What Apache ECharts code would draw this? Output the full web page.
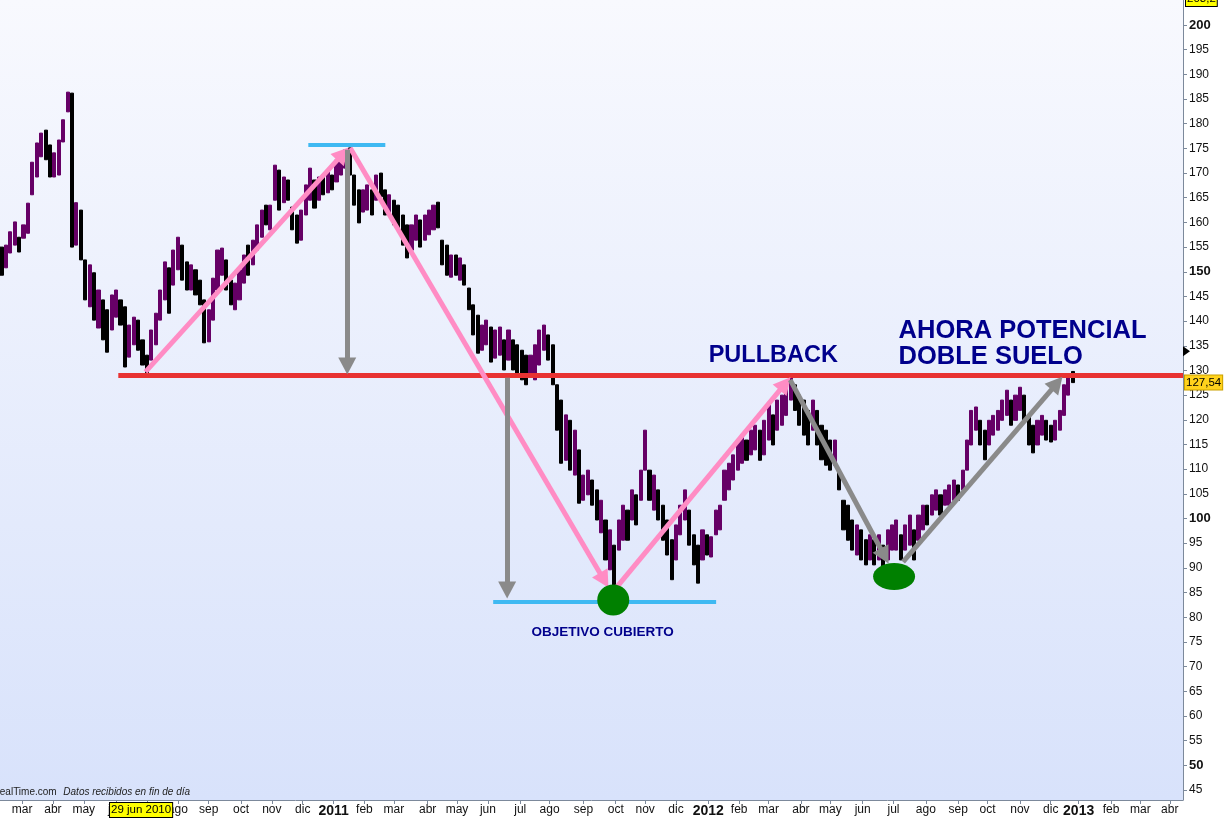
<!DOCTYPE html>
<html>
<head>
<meta charset="utf-8">
<script src="https://cdn.jsdelivr.net/npm/echarts@6/dist/echarts.min.js"></script>
<style>
html,body{margin:0;padding:0;background:#ffffff;}
#c{width:1226px;height:818px;}
</style>
</head>
<body>
<div id="c"></div>
<script>
// ---- price bars (each bar = 3 trading days; x = trading-day index since 1 Jan 2010) ----
const firstBarDay = 30;
const barStepDays = 3;
const priceOpen = [
155.0,150.8,153.8,155.4,157.0,156.8,157.8,165.6,169.2,173.3,
178.7,175.7,169.2,169.6,176.3,182.4,186.2,155.4,162.5,152.4,
142.9,149.8,138.6,144.3,142.3,138.2,140.8,144.3,142.9,132.7,
135.2,140.2,136.2,133.1,132.1,135.2,140.2,144.3,150.8,147.3,
150.4,155.4,152.0,146.3,150.4,148.3,144.3,135.8,140.2,146.3,
149.3,152.4,148.3,142.3,144.3,147.7,155.4,151.4,154.4,157.0,
163.5,158.5,164.5,170.6,164.0,168.6,163.1,161.5,156.4,161.5,
164.5,168.6,164.5,169.6,166.0,169.6,168.2,169.6,171.0,175.1,
169.6,166.6,162.1,162.5,166.6,164.5,170.0,166.6,161.5,164.5,
163.5,161.5,159.5,154.4,156.4,160.5,156.4,157.5,158.5,164.1,
156.4,155.4,148.9,153.4,148.3,151.4,146.7,143.3,141.2,134.1,
135.2,138.8,132.5,133.1,136.2,132.1,136.2,135.2,134.1,133.1,
129.1,128.1,131.1,134.1,137.2,135.2,127.1,124.0,111.8,119.9,
108.8,113.9,103.7,104.8,107.8,105.8,97.1,99.7,89.6,94.6,
93.6,95.6,101.7,99.7,104.8,103.7,109.8,109.8,101.7,105.8,
102.7,99.7,95.7,91.6,96.7,99.7,101.7,96.7,94.6,91.6,
96.7,92.2,96.7,97.7,103.7,105.8,107.8,109.8,111.2,115.9,
112.9,113.9,117.9,112.9,115.9,121.0,117.9,118.9,120.9,124.0,
127.1,125.0,124.0,121.9,117.9,121.9,118.9,117.9,115.9,110.8,
109.8,103.7,102.7,99.7,92.6,97.7,95.7,91.6,95.7,91.6,
94.6,91.6,93.6,93.6,96.7,93.6,94.6,97.7,95.6,97.7,
102.7,100.7,101.7,104.8,102.7,102.7,103.7,106.8,105.8,109.8,
114.9,117.9,119.9,117.9,114.9,116.9,117.9,119.9,120.9,124.0,
119.9,121.9,125.0,120.9,118.9,114.9,116.9,119.9,118.9,115.9,
117.9,120.9,125.0,129.8
];
const priceClose = [
149.3,155.4,158.1,160.1,154.0,159.5,163.9,172.2,176.1,178.1,
172.7,169.2,174.1,176.7,180.8,186.4,155.0,164.0,152.4,144.3,
151.4,140.2,146.3,136.2,133.7,145.3,146.3,139.2,130.7,139.2,
140.8,134.1,131.1,129.5,138.2,141.6,146.3,152.0,141.6,154.4,
157.0,148.3,146.3,151.4,145.3,143.3,135.6,142.3,148.7,154.4,
154.8,146.3,143.3,147.7,150.4,153.4,149.3,156.4,159.5,162.5,
159.5,163.5,171.6,162.5,169.2,164.5,158.5,155.8,162.5,167.6,
171.0,162.9,169.2,165.6,170.2,166.6,172.6,173.7,174.7,169.6,
163.5,159.9,166.6,167.6,161.5,169.6,165.2,161.5,165.6,159.5,
158.5,155.4,152.8,159.5,161.5,155.0,161.5,162.5,163.5,158.9,
151.4,149.3,153.4,149.3,152.8,147.3,142.3,137.2,133.5,139.2,
140.2,131.7,138.2,138.8,130.1,138.2,130.1,129.1,128.1,127.1,
133.1,135.2,138.2,139.2,132.1,127.1,117.9,111.2,121.0,109.8,
117.9,103.1,108.8,109.8,102.7,99.7,103.7,91.6,97.7,85.5,
99.7,102.7,95.6,105.8,98.7,109.8,117.9,103.7,108.8,99.7,
95.6,92.6,87.6,98.7,102.7,105.8,94.6,90.6,86.9,97.7,
92.6,96.3,101.7,102.7,109.8,111.2,112.9,115.9,116.9,111.8,
117.9,118.9,111.8,119.9,123.0,114.9,124.0,125.0,127.1,128.5,
121.9,118.9,116.9,114.9,124.0,114.9,111.9,110.8,109.8,115.9,
105.8,97.7,95.6,93.6,98.7,91.6,90.6,96.7,90.6,96.7,
90.0,97.7,98.7,99.7,91.6,98.7,100.7,91.6,100.7,102.7,
98.7,104.8,105.8,100.7,105.8,106.8,107.8,103.7,109.8,115.9,
121.9,122.6,114.9,111.9,119.9,120.9,121.9,124.0,126.0,118.9,
125.0,126.6,119.9,114.9,113.3,119.9,120.9,115.9,115.5,119.9,
121.9,127.1,129.1,127.54
];

// ---- axes ----
const xMinDay = 29, xMaxDay = 834;
const yMin = 42.96, yMax = 205.07;
const monthTicks = [44,65,86,108,129,150,171,193,214,235,256,277,297,320,340,361,383,403,426,448,468,489,511,532,552,574,594,616,637,659,681,701,723,744,763,785,805,825];
const monthLabels = ['mar','abr','may','jun','jul','ago','sep','oct','nov','dic','2011','feb','mar','abr','may','jun','jul','ago','sep','oct','nov','dic','2012','feb','mar','abr','may','jun','jul','ago','sep','oct','nov','dic','2013','feb','mar','abr'];
const priceTicks = [45,50,55,60,65,70,75,80,85,90,95,100,105,110,115,120,125,130,135,140,145,150,155,160,165,170,175,180,185,190,195,200];

// ---- annotations (data coordinates: [trading day, price]) ----
const resistanceLine = [[109.5,129.0],[834,129.0]];
const cyanLines = [ [[238.8,175.7],[291.2,175.7]], [[364.6,83.1],[516.3,83.1]] ];
const pinkArrows = [ [[128.0,129.7],[262.3,173.9]], [[267.3,175.1],[440.1,87.5]], [[447.0,85.5],[563.2,127.3]] ];
const grayArrows = [ [[265.3,174.7],[265.3,130.9]], [[374.1,128.5],[374.1,85.5]], [[566.7,128.1],[630.9,92.4]], [[643.5,91.2],[748.2,127.4]] ];
const greenMarks = [ {pos:[446.3,83.5], size:[32,31]}, {pos:[637.4,88.25], size:[42,27]} ];
const notes = [
  {pos:[510.9,133.0], text:'PULLBACK', size:23.5, align:'left'},
  {pos:[640.1,135.4], text:'AHORA POTENCIAL\nDOBLE SUELO', size:25.5, align:'left'},
  {pos:[439.1,77.0], text:'OBJETIVO CUBIERTO', size:13.5, align:'center'}
];
const lowDateDay = 125, lowDateText = '29 jun 2010';
const lastPrice = 127.54, lastPriceText = '127,54';
const topPriceText = '203,2';
const markerPrice = 133.9;

const FONT = '"Liberation Sans", Arial, sans-serif';
const bars = priceOpen.map((o, i) => {
  const c = priceClose[i];
  return [firstBarDay + i * barStepDays, o, c, Math.min(o, c), Math.max(o, c)];
});
const pair = seg => [{coord: seg[0]}, {coord: seg[1]}];

const chart = echarts.init(document.getElementById('c'), null, {renderer: 'canvas'});
chart.setOption({
  animation: false,
  backgroundColor: '#ffffff',
  grid: {
    left: 0, right: 43, top: 0, bottom: 18, show: true, borderWidth: 0,
    backgroundColor: new echarts.graphic.LinearGradient(0, 0, 0, 1, [
      {offset: 0, color: '#f8f9fe'}, {offset: 1, color: '#d8e2fb'}
    ])
  },
  xAxis: {
    type: 'value', min: xMinDay, max: xMaxDay,
    axisLine: {show: true, onZero: false, lineStyle: {color: '#7c899b', width: 1}},
    axisTick: {show: true, customValues: monthTicks, length: 4, lineStyle: {color: '#7c899b'}},
    axisLabel: {
      customValues: monthTicks, margin: 4, color: '#111', fontSize: 12, fontFamily: FONT,
      formatter: v => {
        const s = monthLabels[monthTicks.indexOf(v)] || '';
        return /^\d{4}$/.test(s) ? '{y|' + s + '}' : s;
      },
      rich: {y: {fontWeight: 'bold', fontSize: 14, color: '#111', fontFamily: FONT}}
    },
    splitLine: {show: false}
  },
  yAxis: {
    type: 'value', position: 'right', min: yMin, max: yMax,
    axisLine: {show: true, onZero: false, lineStyle: {color: '#7c899b', width: 1}},
    axisTick: {show: true, customValues: priceTicks, length: 4, lineStyle: {color: '#7c899b'}},
    axisLabel: {
      customValues: priceTicks, margin: 6, color: '#111', fontSize: 12, fontFamily: FONT,
      formatter: v => (v % 50 === 0 ? '{b|' + v + '}' : String(v)),
      rich: {b: {fontWeight: 'bold', fontSize: 13, color: '#111', fontFamily: FONT}}
    },
    splitLine: {show: false}
  },
  series: [
    {
      type: 'candlestick', data: bars, encode: {x: 0, y: [1, 2, 3, 4]},
      barWidth: 3.6, silent: true, z: 2,
      itemStyle: {color: '#660066', color0: '#000000', borderColor: '#660066', borderColor0: '#000000', borderWidth: 1}
    },
    {
      type: 'line', data: [], silent: true,
      markLine: {
        silent: true, animation: false, z: 5, symbol: ['none', 'none'],
        label: {show: false}, emphasis: {disabled: true},
        lineStyle: {color: '#e83232', width: 5, type: 'solid', opacity: 1},
        data: [pair(resistanceLine)]
      }
    },
    {
      type: 'line', data: [], silent: true,
      markLine: {
        silent: true, animation: false, z: 5, symbol: ['none', 'none'],
        label: {show: false}, emphasis: {disabled: true},
        lineStyle: {color: '#3fb9f2', width: 4, type: 'solid', opacity: 1},
        data: cyanLines.map(pair)
      }
    },
    {
      type: 'line', data: [], silent: true,
      markLine: {
        silent: true, animation: false, z: 6, symbol: ['none', 'triangle'], symbolSize: [18, 17],
        label: {show: false}, emphasis: {disabled: true},
        lineStyle: {color: '#ff8cc4', width: 5, type: 'solid', opacity: 1},
        itemStyle: {color: '#ff8cc4'},
        data: pinkArrows.map(pair)
      }
    },
    {
      type: 'line', data: [], silent: true,
      markLine: {
        silent: true, animation: false, z: 6, symbol: ['none', 'triangle'], symbolSize: [18, 17],
        label: {show: false}, emphasis: {disabled: true},
        lineStyle: {color: '#8a8a8a', width: 5, type: 'solid', opacity: 1},
        itemStyle: {color: '#8a8a8a'},
        data: grayArrows.map(pair)
      }
    },
    {
      type: 'scatter', silent: true, z: 10,
      data: greenMarks.map(g => ({value: g.pos, symbolSize: g.size})),
      symbol: 'circle', itemStyle: {color: '#008000', opacity: 1}
    },
    {
      type: 'scatter', silent: true, z: 11, symbolSize: 1,
      itemStyle: {color: 'rgba(0,0,0,0)', opacity: 1},
      data: notes.map(n => ({
        value: n.pos,
        label: {
          show: true, formatter: n.text, opacity: 1,
          position: n.align === 'center' ? 'inside' : 'right', distance: 0,
          align: n.align, verticalAlign: 'middle',
          color: '#00008c', fontWeight: 'bold', fontSize: n.size, fontFamily: FONT,
          lineHeight: Math.round(n.size * 1.03)
        }
      }))
    }
  ]
});

function toPx(x, y) { return chart.convertToPixel({gridIndex: 0}, [x, y]); }
const dateX = toPx(lowDateDay, 100)[0];
const lastY = toPx(xMaxDay, lastPrice)[1];
const axisX = toPx(xMaxDay, 100)[0];
const markY = toPx(xMaxDay, markerPrice)[1];
const bottomY = toPx(xMinDay, yMin)[1];

chart.setOption({
  graphic: [
    {
      type: 'text', x: -23, y: bottomY - 8, z: 20, silent: true,
      style: {
        text: '{a|ProRealTime.com}  {b|Datos recibidos en fin de día}',
        verticalAlign: 'middle',
        rich: {
          a: {fontSize: 10, fontFamily: FONT, fill: '#222'},
          b: {fontSize: 10, fontFamily: FONT, fontStyle: 'italic', fill: '#222'}
        }
      }
    },
    {
      type: 'text', x: dateX, y: bottomY + 10, z: 20, silent: true,
      style: {
        text: lowDateText, align: 'center', verticalAlign: 'middle',
        font: '11.5px ' + FONT, fill: '#000',
        backgroundColor: '#ffff00', borderColor: '#000', borderWidth: 1, padding: [1, 1, 1, 1]
      }
    },
    {
      type: 'text', x: axisX + 2, y: lastY, z: 20, silent: true,
      style: {
        text: lastPriceText, align: 'left', verticalAlign: 'middle',
        font: '11.5px ' + FONT, fill: '#000',
        backgroundColor: '#ffd21c', borderColor: '#c9a000', borderWidth: 1, padding: [1, 1, 1, 1]
      }
    },
    {
      type: 'text', x: axisX + 3, y: -1, z: 20, silent: true,
      style: {
        text: topPriceText, align: 'left', verticalAlign: 'middle',
        font: '11.5px ' + FONT, fill: '#000',
        backgroundColor: '#ffff00', borderColor: '#000', borderWidth: 1, padding: [1, 1, 1, 1]
      }
    },
    {
      type: 'polygon', z: 20, silent: true,
      shape: {points: [[axisX, markY - 5], [axisX + 7, markY], [axisX, markY + 5]]},
      style: {fill: '#000'}
    }
  ]
});
</script>
</body>
</html>
